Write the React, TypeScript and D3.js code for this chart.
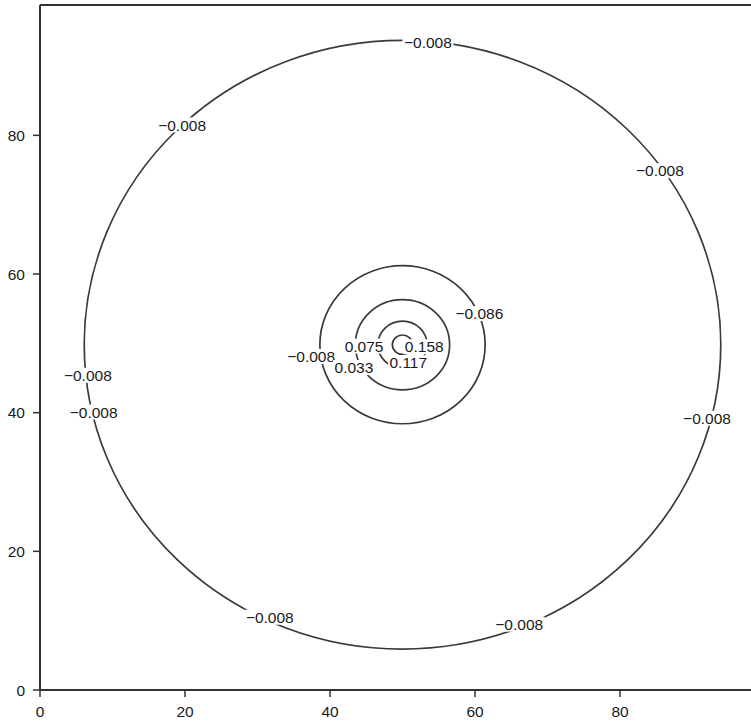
import React from "react";
import * as d3 from "d3";

const X_TICKS = [0, 20, 40, 60, 80];
const Y_TICKS = [0, 20, 40, 60, 80];
const X_MAX = 100;
const Y_MAX = 98.8;

const CENTER_X = 50;
const CENTER_Y = 49.8;
const RING_LEVELS = [-0.008, -0.008, 0.033, 0.075, 0.117];
const RING_RADII = [43.9, 11.4, 6.5, 3.4, 1.4];

const LABEL_TEXT = [
  "−0.008", "−0.008", "−0.008", "−0.008", "−0.008", "−0.008", "−0.008", "−0.008",
  "−0.086", "−0.008", "0.075", "0.033", "0.158", "0.117",
];
const LABEL_X = [53.5, 19.6, 85.5, 6.6, 7.4, 92.0, 31.7, 66.1, 60.6, 37.4, 44.7, 43.3, 53.0, 50.8];
const LABEL_Y = [93.4, 81.5, 74.9, 45.4, 40.1, 39.2, 10.5, 9.5, 54.3, 48.1, 49.6, 46.5, 49.5, 47.2];

const FONT = "'Liberation Sans', Arial, Helvetica, sans-serif";
const FONT_SIZE = 15.5;

let ctx: CanvasRenderingContext2D | null = null;
function measure(t: string): number {
  if (!ctx) {
    const c = document.createElement("canvas");
    ctx = c.getContext("2d");
  }
  if (!ctx) return t.length * FONT_SIZE * 0.55;
  ctx.font = `${FONT_SIZE}px ${FONT}`;
  return ctx.measureText(t).width;
}

export default function App() {
  const x = d3.scaleLinear().domain([0, X_MAX]).range([40, 765]);
  const y = d3.scaleLinear().domain([0, Y_MAX]).range([690, 5]);
  const lineColor = "#3a3a3a";
  const axisColor = "#333";

  return (
    <svg
      width={751}
      height={722}
      style={{ position: "absolute", left: 0, top: 0, background: "#fff" }}
      fontFamily={FONT}
      fontSize={FONT_SIZE}
    >
      <rect x={0} y={0} width={751} height={722} fill="#fff" />
      {RING_RADII.map((r, i) => (
        <ellipse
          key={"ring" + i}
          data-level={RING_LEVELS[i]}
          cx={x(CENTER_X)}
          cy={y(CENTER_Y)}
          rx={x(r) - x(0)}
          ry={y(0) - y(r)}
          fill="none"
          stroke={lineColor}
          strokeWidth={1.7}
        />
      ))}
      {LABEL_TEXT.map((t, i) => {
        const w = measure(t);
        const cx = x(LABEL_X[i]);
        const cy = y(LABEL_Y[i]);
        return (
          <g key={"lab" + i}>
            <rect x={cx - w / 2 - 1.5} y={cy - 7.5} width={w + 3} height={15} fill="#fff" />
            <text x={cx} y={cy} textAnchor="middle" dy="0.36em" fill="#1a1a1a">
              {t}
            </text>
          </g>
        );
      })}
      <line x1={x(0)} x2={x(X_MAX)} y1={y(Y_MAX)} y2={y(Y_MAX)} stroke={axisColor} strokeWidth={2} />
      <line x1={x(0)} x2={x(0)} y1={y(Y_MAX)} y2={y(0)} stroke={axisColor} strokeWidth={2} />
      <line x1={x(0)} x2={x(X_MAX)} y1={y(0)} y2={y(0)} stroke={axisColor} strokeWidth={2} />
      <line x1={x(X_MAX)} x2={x(X_MAX)} y1={y(Y_MAX)} y2={y(0)} stroke={axisColor} strokeWidth={2} />
      {X_TICKS.map((v) => (
        <g key={"xt" + v}>
          <line x1={x(v)} x2={x(v)} y1={y(0)} y2={y(0) + 7} stroke={axisColor} strokeWidth={1.5} />
          <text x={x(v)} y={y(0) + 27} textAnchor="middle" fill="#1a1a1a">
            {v}
          </text>
        </g>
      ))}
      {Y_TICKS.map((v) => (
        <g key={"yt" + v}>
          <line x1={x(0) - 7} x2={x(0)} y1={y(v)} y2={y(v)} stroke={axisColor} strokeWidth={1.5} />
          <text x={x(0) - 15} y={y(v)} dy="0.36em" textAnchor="end" fill="#1a1a1a">
            {v}
          </text>
        </g>
      ))}
    </svg>
  );
}
